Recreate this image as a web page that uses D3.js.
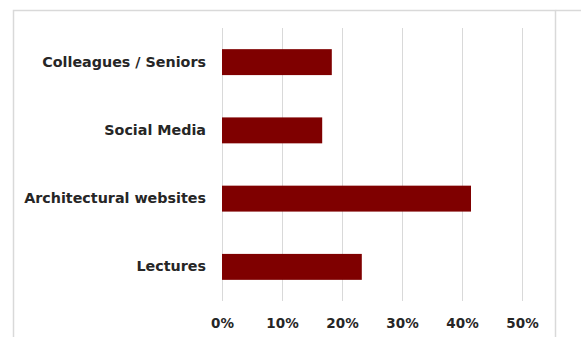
<!DOCTYPE html>
<html>
<head>
<meta charset="utf-8">
<script src="https://cdn.jsdelivr.net/npm/d3@7"></script>
<style>
  html, body { margin: 0; padding: 0; background: #ffffff; }
  svg { display: block; }
</style>
</head>
<body>
<svg id="chart" width="581" height="337"></svg>
<script>
// Sources of information, share of respondents (%)
const categories = ["Colleagues / Seniors", "Social Media", "Architectural websites", "Lectures"];
const values = [18.3, 16.7, 41.5, 23.3];
const tickValues = [0, 10, 20, 30, 40, 50];

const W = 581, H = 337;
const svg = d3.select("#chart");

// chart frame
svg.append("rect")
  .attr("x", 13.5).attr("y", 10.5)
  .attr("width", 542).attr("height", 340)
  .attr("fill", "#ffffff")
  .attr("stroke", "#d9d9d9").attr("stroke-width", 1.5);
svg.append("line")
  .attr("x1", 555.5).attr("x2", W).attr("y1", 10.5).attr("y2", 10.5)
  .attr("stroke", "#d9d9d9").attr("stroke-width", 1.5);

const plot = { left: 222, right: 522, top: 28, bottom: 301 };

const x = d3.scaleLinear().domain([0, 50]).range([plot.left, plot.right]);
const y = d3.scaleBand().domain(categories).range([plot.top, plot.bottom]).paddingInner(0.62).paddingOuter(0.31);

// vertical gridlines
svg.append("g")
  .selectAll("line")
  .data(tickValues)
  .join("line")
  .attr("x1", d => Math.round(x(d)) + 0.5)
  .attr("x2", d => Math.round(x(d)) + 0.5)
  .attr("y1", plot.top).attr("y2", plot.bottom)
  .attr("stroke", "#d9d9d9").attr("stroke-width", 1);

// bars
svg.append("g")
  .selectAll("rect")
  .data(categories)
  .join("rect")
  .attr("x", x(0))
  .attr("y", d => y(d))
  .attr("width", (d, i) => x(values[i]) - x(0))
  .attr("height", y.bandwidth())
  .attr("fill", "#7f0000");

const fontFamily = "'Century Gothic', 'URW Gothic', 'DejaVu Sans', sans-serif";

// category axis labels
const yAxis = d3.axisLeft(y).tickSize(0).tickPadding(0);
const gy = svg.append("g").attr("transform", "translate(206,0)").call(yAxis);
gy.select(".domain").remove();
gy.selectAll("text")
  .attr("font-family", fontFamily)
  .attr("font-weight", "bold")
  .attr("font-size", 14.3)
  .attr("fill", "#262626");

// value axis labels
const xAxis = d3.axisBottom(x).tickValues(tickValues).tickSize(0).tickPadding(0)
  .tickFormat(d => d + "%");
const gx = svg.append("g").attr("transform", "translate(0,318)").call(xAxis);
gx.select(".domain").remove();
gx.selectAll("text")
  .attr("font-family", fontFamily)
  .attr("font-weight", "bold")
  .attr("font-size", 13.5)
  .attr("fill", "#262626");
</script>
</body>
</html>
